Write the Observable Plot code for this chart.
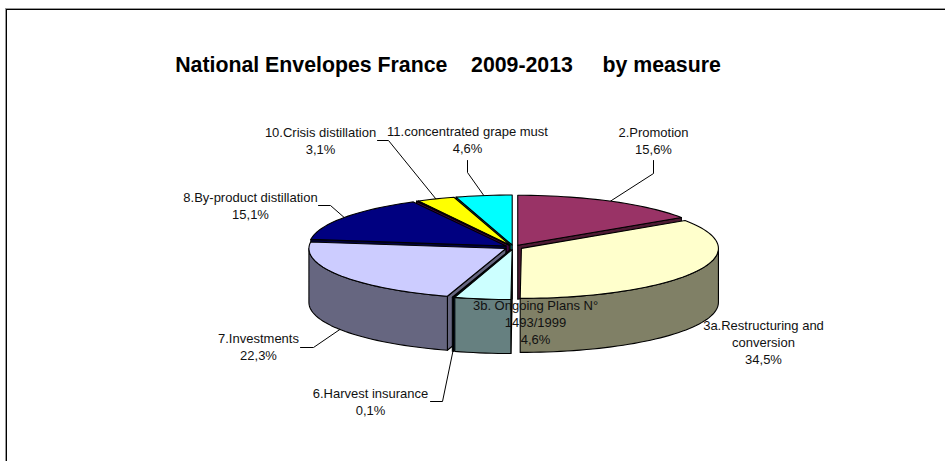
<!DOCTYPE html>
<html>
<head>
<meta charset="utf-8">
<style>
html, body { margin: 0; padding: 0; background: #fff; }
svg { display: block; }
</style>
<script src="https://cdn.jsdelivr.net/npm/d3@7"></script>
<script src="https://cdn.jsdelivr.net/npm/@observablehq/plot@0.6"></script>
</head>
<body>
<div id="chart"></div>
<script>
// Data, in drawing order of the pie (clockwise from 12 o'clock)
const titleText = "National Envelopes France    2009-2013     by measure";
const measures = ["2.Promotion", "3a.Restructuring and\nconversion", "3b. Ongoing Plans N°\n1493/1999", "6.Harvest insurance", "7.Investments", "8.By-product distillation", "", "10.Crisis distillation", "11.concentrated grape must"];
const shares = [15.6, 34.5, 4.6, 0.1, 22.3, 15.1, 0.1, 3.1, 4.6];
const shareLabels = ["15,6%", "34,5%", "4,6%", "0,1%", "22,3%", "15,1%", "", "3,1%", "4,6%"];

// Styles
const topColors = ["#993366", "#FFFFCC", "#CCFFFF", "#0066CC", "#CCCCFF", "#000080", "#800080", "#FFFF00", "#00FFFF"];
const sideColors = ["#4D1A33", "#808066", "#668080", "#003366", "#666680", "#000040", "#400040", "#808000", "#008080"];

// Layout of the 3D pie
const W = 945, H = 461;
const cx = 513, cy = 246.8, R = 197, RY = 50, DEPTH = 54, EXPLODE = 9;
const paintOrder = [0, 8, 7, 6, 5, 4, 3, 2, 1];
const labelAt = [[653, 139.5], [763, 341], [535, 321.5], [370, 400.5], [258, 345.5], [250, 205], null, [320, 139.5], [467, 139]];
const leaderFrom = [
  [[653, 160], [653, 173]],
  null,
  null,
  [[430, 401], [442, 401]],
  [[300, 347], [313, 347]],
  [[318, 205], [330, 205]],
  null,
  [[377, 140], [388, 140]],
  [[467, 160], [467, 172]]
];

const rad = d => d * Math.PI / 180;
const total = d3.sum(shares);
let acc = 0;
const slices = shares.map((v, i) => {
  const t0 = acc / total * 360; acc += v;
  const t1 = acc / total * 360;
  const mid = (t0 + t1) / 2;
  return {
    i, t0, t1, mid,
    ax: cx + EXPLODE * Math.sin(rad(mid)),
    ay: cy - EXPLODE * (RY / R) * Math.cos(rad(mid))
  };
});
const rim = (s, t, drop = 0) => ({x: s.ax + R * Math.sin(rad(t)), y: s.ay - RY * Math.cos(rad(t)) + drop});
const arc = (s, a, b, drop = 0) => {
  const n = Math.max(2, Math.ceil(Math.abs(b - a) / 2));
  return d3.range(n + 1).map(k => rim(s, a + (b - a) * k / n, drop));
};

const pieces = [];
const addPiece = (id, fill, pts) => pts.forEach(p => pieces.push({...p, id, fill}));
for (const i of paintOrder) {
  const s = slices[i];
  const apex = {x: s.ax, y: s.ay};
  const apexLow = {x: s.ax, y: s.ay + DEPTH};
  if (s.t1 > 0 && s.t1 < 180) {
    addPiece(`${i}-end`, sideColors[i], [apex, rim(s, s.t1), rim(s, s.t1, DEPTH), apexLow]);
  }
  if (s.t0 > 180 && s.t0 < 360) {
    addPiece(`${i}-start`, sideColors[i], [apex, rim(s, s.t0), rim(s, s.t0, DEPTH), apexLow]);
  }
  const a = Math.max(s.t0, 90), b = Math.min(s.t1, 270);
  if (b > a) {
    addPiece(`${i}-outer`, sideColors[i], [...arc(s, a, b), ...arc(s, b, a, DEPTH)]);
  }
  addPiece(`${i}-top`, topColors[i], [apex, ...arc(s, s.t0, s.t1)]);
}

const leaders = [];
leaderFrom.forEach((pts, i) => {
  if (!pts) return;
  const s = slices[i];
  const front = s.mid > 90 && s.mid < 270;
  const end = rim(s, s.mid, front ? DEPTH : 0);
  [...pts.map(([x, y]) => ({x, y})), end].forEach(p => leaders.push({...p, i}));
});

const labels = measures.map((m, i) => ({
  text: `${m}\n${shareLabels[i]}`,
  pos: labelAt[i]
})).filter(d => d.pos);

const chart = Plot.plot({
  width: W, height: H,
  margin: 0,
  x: {domain: [0, W], range: [0, W], axis: null},
  y: {domain: [0, H], range: [0, H], axis: null},
  color: {type: "identity"},
  style: {fontFamily: "'Liberation Sans', Arial, sans-serif", background: "#fff"},
  marks: [
    Plot.ruleX([5], {y1: 8, y2: H, stroke: "#999"}),
    Plot.ruleY([8], {x1: 5, x2: W, stroke: "#999"}),
    Plot.ruleX([6], {y1: 9, y2: H, stroke: "#000"}),
    Plot.ruleY([9], {x1: 6, x2: W, stroke: "#000"}),
    Plot.line(leaders, {x: "x", y: "y", z: "i", stroke: "#000", strokeWidth: 1}),
    Plot.line(pieces, {x: "x", y: "y", z: "id", fill: "fill", stroke: "#000", strokeWidth: 1.1, strokeLinejoin: "round", curve: "linear-closed"}),
    Plot.text(labels, {x: d => d.pos[0], y: d => d.pos[1], text: "text", fontSize: 13, lineHeight: 1.31, textAnchor: "middle", lineAnchor: "middle", fill: "#111"}),
    Plot.text([titleText], {x: () => 447.5, y: () => 65, text: d => d, fontSize: 21.3, fontWeight: "bold", textAnchor: "middle", lineAnchor: "middle", fill: "#000"})
  ]
});
document.getElementById("chart").appendChild(chart);
</script>
</body>
</html>
